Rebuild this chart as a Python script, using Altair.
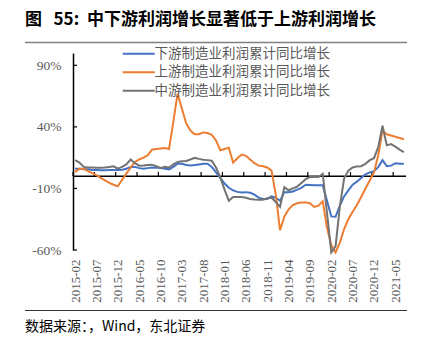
import altair as alt
import pandas as pd

# ---- data -------------------------------------------------------------
months = list(pd.period_range("2015-02", periods=78, freq="M").strftime("%Y-%m"))
x_tick_labels = months[::5]          # 2015-02, 2015-07, ... 2021-05
y_tick_values = [-60, -10, 40, 90]

series_names = ["下游制造业利润累计同比增长", "上游制造业利润累计同比增长", "中游制造业利润累计同比增长"]
series_colors = ["#4472C4", "#ED7D31", "#737373"]

downstream = [6, 6, 5.5, 5.5, 5, 5, 4.8, 4.8, 5, 5,
              5, 5.2, 6, 7.5, 7.5, 6.5, 6, 6.5, 7, 6.8,
              6.8, 6, 5.5, 7.5, 10, 10, 9, 8.7, 9, 9.5,
              10, 10, 7.5, 3, -1.5, -6, -9.5, -11.6, -12.8, -13.2,
              -13, -13.5, -15, -17.5, -18.5, -18.5, -16.5, -17.5, -20, -13,
              -13, -12.5, -11, -9.5, -7, -7.2, -7.5, -7.5, -7.5, -20,
              -32.7, -33, -24, -16.5, -11.6, -7, -4.5, -1.5, 1.5, 3,
              4, 7.3, 13, 8, 8.5, 10.5, 10, 10]

upstream = [3.5, 6, 6, 4, 2.5, 0.8, -1.5, -3.5, -5.5, -7,
            -8.3, -3, 2, 7, 11.5, 13.5, 15, 17, 21.4, 22,
            22.5, 22.8, 22, 44, 67, 55, 43, 37, 34, 34,
            35.5, 35, 33.5, 29, 21, 22, 23, 11, 14.5, 17.5,
            16.5, 13.5, 10.5, 8.5, 8, 7, 4.5, -15, -44, -33,
            -27, -23.5, -22, -21.5, -21.5, -22, -25, -24, -20.5, -42,
            -56, -62, -54, -43, -35, -29, -23.5, -17, -10, -3.5,
            3, 17, 37, 34, 33, 32, 31, 30]

midstream = [13, 11, 7.5, 7, 7, 6.8, 6.8, 7, 7.5, 8,
             6, 7.5, 9.5, 13.5, 10.5, 8.5, 8.7, 9, 9.3, 8,
             6.5, 7.5, 7, 9.5, 11.5, 12, 12.3, 13.5, 14.8, 14,
             13.3, 13, 12.5, 7, -1, -11, -20, -17, -17, -17,
             -17.5, -18.5, -19, -19.2, -19.2, -18, -17.5, -21, -25, -9,
             -11.5, -10, -8.5, -5.5, -2.5, -0.8, -0.8, -0.8, 1.9, -30,
             -62, -57, -25, -2, 4.5, 7, 7.9, 8.1, 10, 13,
             14.6, 23.5, 41, 25, 26, 24, 21.5, 19.5]

rows = []
for name, vals in zip(series_names, [downstream, upstream, midstream]):
    for i, v in enumerate(vals):
        rows.append({"idx": i, "month": months[i], "series": name, "value": v})
df = pd.DataFrame(rows)

# category boundaries every 5 months (tick marks sit between categories)
tick_df = pd.DataFrame({"idx": [k - 0.5 for k in range(0, 78, 5)]})
ytick_df = pd.DataFrame({"value": y_tick_values})
zero_df = pd.DataFrame({"value": [0]})

# ---- layout -----------------------------------------------------------
W, H = 333, 197
serif = "Liberation Serif"
cjk = "Noto Sans CJK SC"
label_expr = "[" + ",".join(f"'{s}'" for s in x_tick_labels) + "][round(datum.value / 5)]"

x_scale = alt.Scale(domain=[-0.5, 77.5], nice=False, zero=False)
y_scale = alt.Scale(domain=[-60, 100], nice=False, zero=False)

x_axis = alt.Axis(values=list(range(0, 78, 5)), labelExpr=label_expr,
                  labelAngle=270, ticks=False, domain=False, grid=False,
                  labelFont=serif, labelFontSize=13, labelColor="#595959",
                  labelPadding=9, title=None, labelOverlap=False)
y_axis = alt.Axis(values=y_tick_values, labelExpr="datum.value + '%'",
                  ticks=False, domain=True, domainColor="black", domainWidth=1.5,
                  grid=False, title=None, labelFont=serif, labelFontSize=13.5,
                  labelColor="#595959", labelPadding=12)

lines = alt.Chart(df).mark_line(strokeWidth=2).encode(
    x=alt.X("idx:Q", scale=x_scale, axis=x_axis),
    y=alt.Y("value:Q", scale=y_scale, axis=y_axis),
    color=alt.Color("series:N",
                    scale=alt.Scale(domain=series_names, range=series_colors),
                    legend=alt.Legend(title=None, orient="none", legendX=59, legendY=-6,
                                      direction="vertical", symbolType="M-4,0H4",
                                      symbolSize=64, symbolStrokeWidth=2,
                                      labelFont=cjk, labelFontSize=13.5, labelColor="#595959",
                                      labelLimit=400, labelOffset=9, rowPadding=3.5,
                                      padding=0)),
    detail="series:N",
)

zero_line = alt.Chart(zero_df).mark_rule(color="black", strokeWidth=1.5).encode(
    y=alt.Y("value:Q", scale=y_scale, axis=y_axis)
)

x_ticks = alt.Chart(tick_df).mark_rule(color="black", strokeWidth=1.2).encode(
    x=alt.X("idx:Q", scale=x_scale, axis=x_axis),
    y=alt.datum(0),
    y2=alt.datum(3.3),
)

y_ticks = alt.Chart(ytick_df).mark_rule(color="black", strokeWidth=1.2).encode(
    y=alt.Y("value:Q", scale=y_scale, axis=y_axis),
    x=alt.value(0),
    x2=alt.value(4),
)

nb = "\u00a0"
title = alt.Chart(zero_df).mark_text(
    text=f"图{nb}{nb}{nb}55:{nb}{nb}中下游利润增长显著低于上游利润增长", font=cjk, fontSize=17,
    fontWeight="bold", color="black", align="left", baseline="middle"
).encode(x=alt.value(-48), y=alt.value(-33))

title_rule = alt.Chart(zero_df).mark_rule(color="#808080", strokeWidth=1.5).encode(
    x=alt.value(-48), x2=alt.value(334), y=alt.value(-10.5)
)

bottom_rule = alt.Chart(zero_df).mark_rule(color="#333333", strokeWidth=1).encode(
    x=alt.value(-48), x2=alt.value(334), y=alt.value(257.5)
)

source = alt.Chart(zero_df).mark_text(
    text="数据来源：，Wind，东北证券", font=cjk, fontSize=14, color="black",
    align="left", baseline="middle"
).encode(x=alt.value(-48), y=alt.value(274))

chart = alt.layer(
    zero_line, x_ticks, y_ticks, lines, title, title_rule, bottom_rule, source
).properties(
    width=W, height=H,
    autosize=alt.AutoSizeParams(type="none"),
    padding={"left": 73, "top": 53, "right": 19, "bottom": 91},
).configure_view(stroke=None)

chart.save("out.html", embed_options={"renderer": "svg", "actions": False})
